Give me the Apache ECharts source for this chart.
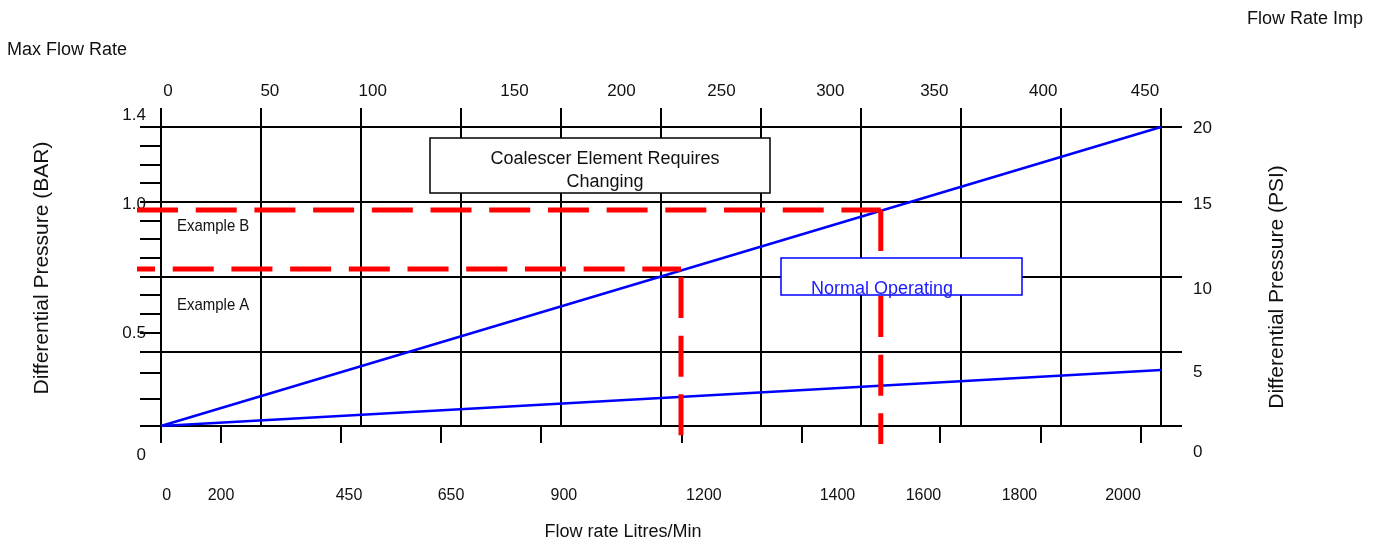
<!DOCTYPE html>
<html>
<head>
<meta charset="utf-8">
<script src="https://cdn.jsdelivr.net/npm/echarts@6/dist/echarts.min.js"></script>
<style>
html,body{margin:0;padding:0;background:#fff;}
#chart{width:1383px;height:546px;}
</style>
</head>
<body>
<div id="chart"></div>
<script>
// ---------------- data ----------------
// x unit: flow rate (Imp), y unit: differential pressure (PSI)
const flowEnds = [0, 450];
const upperLinePsi = [0, 20];
const lowerLinePsi = [0, 3.75];

// red example paths (flow Imp, PSI)
const exampleAHorizFlow = [-17.53, 234.0];
const exampleAHorizPsi  = [10.5, 10.5];
const exampleAVertFlow  = [234.0, 234.0];
const exampleAVertPsi   = [9.97, -0.74];
const exampleBHorizFlow = [-18.43, 323.9];
const exampleBHorizPsi  = [14.45, 14.45];
const exampleBVertFlow  = [323.9, 323.9];
const exampleBVertPsi   = [14.45, -1.2];

// grid lines
const gridFlowValues = [0, 45, 90, 135, 180, 225, 270, 315, 360, 405, 450];
const gridPsiValues = [0, 5, 10, 15, 20];

// top axis (Flow Rate Imp) labels and where they sit
const topLabels = ['0', '50', '100', '150', '200', '250', '300', '350', '400', '450'];
const topLabelAt = [3.1, 49.0, 95.3, 159.1, 207.2, 252.2, 301.2, 348.0, 397.0, 442.8];

// bottom axis (Litres/Min) ticks and labels
const bottomTickAt = [0, 26.97, 80.92, 125.87, 170.83, 234.22, 288.16, 350.65, 396.05, 441.01];
const bottomLabels = ['0', '200', '450', '650', '900', '1200', '1400', '1600', '1800', '2000'];
const bottomLabelAt = [2.6, 27.0, 84.6, 130.5, 181.3, 244.3, 304.4, 343.1, 386.3, 432.9];

// left axis (BAR) minor ticks and labels
const leftTickAt = [18.75, 17.5, 16.25, 13.75, 12.5, 11.25, 8.75, 7.5, 6.25, 3.55, 1.81];
const leftLabels = ['1.4', '1.0', '0.5', '0'];
const leftLabelAt = [20.8, 14.85, 6.22, -1.94];

// right axis (PSI) labels
const rightLabels = ['20', '15', '10', '5', '0'];
const rightLabelAt = [19.93, 14.85, 9.16, 3.61, -1.74];

// ---------------- chart ----------------
const FONT = "'Liberation Sans', Arial, sans-serif";
const X_MIN = -21 * 450 / 1001, X_MAX = 450 + 21 * 450 / 1001;
const Y_MAX = 318 * 20 / 299, Y_MIN_B = -49 * 20 / 299;

function pick(labels, at) {
  return function (v) {
    for (let i = 0; i < at.length; i++) if (Math.abs(at[i] - v) < 1e-6) return labels[i];
    return '';
  };
}
function zip(xs, ys) { return xs.map((x, i) => [x, ys[i]]); }
function redLine(xs, ys, dash, offset) {
  return {type: 'line', xAxisIndex: 0, yAxisIndex: 0, data: zip(xs, ys), symbol: 'none', clip: false,
    lineStyle: {color: '#ff0000', width: 5, type: dash, dashOffset: offset, cap: 'butt'}, z: 6, silent: true};
}

const chart = echarts.init(document.getElementById('chart'), null, {renderer: 'canvas'});
const noLine = {show: false, onZero: false};
chart.setOption({
  animation: false,
  backgroundColor: '#fff',
  grid: [
    {left: 140, right: 201, top: 108, bottom: 120, outerBoundsMode: 'none', containLabel: false},
    {left: 140, right: 201, top: 108, bottom: 71, outerBoundsMode: 'none', containLabel: false}
  ],
  xAxis: [
    { // bottom ticks + labels (Litres/Min)
      gridIndex: 0, type: 'value', position: 'bottom', min: X_MIN, max: X_MAX,
      axisLine: noLine,
      axisTick: {show: true, customValues: bottomTickAt, length: 17, lineStyle: {color: '#000', width: 2}},
      axisLabel: {show: true, customValues: bottomLabelAt, formatter: pick(bottomLabels, bottomLabelAt),
        margin: 62, fontSize: 16, fontFamily: FONT, color: '#111'},
      splitLine: {show: false}
    },
    { // vertical grid lines + top labels (Imp)
      gridIndex: 0, type: 'value', position: 'top', min: X_MIN, max: X_MAX,
      axisLine: noLine,
      axisTick: {show: false, customValues: gridFlowValues},
      axisLabel: {show: true, customValues: topLabelAt, formatter: pick(topLabels, topLabelAt),
        margin: 8, fontSize: 17, fontFamily: FONT, color: '#111'},
      splitLine: {show: true, lineStyle: {color: '#000', width: 2}}
    },
    {gridIndex: 1, type: 'value', min: 0, max: 1, show: false}
  ],
  yAxis: [
    { // horizontal grid lines
      gridIndex: 0, type: 'value', position: 'left', min: 0, max: Y_MAX,
      axisLine: noLine,
      axisTick: {show: false, customValues: gridPsiValues},
      axisLabel: {show: false},
      splitLine: {show: true, lineStyle: {color: '#000', width: 2}}
    },
    { // left minor ticks
      gridIndex: 0, type: 'value', position: 'left', min: 0, max: Y_MAX,
      axisLine: noLine,
      axisTick: {show: true, inside: true, length: 21, customValues: leftTickAt, lineStyle: {color: '#000', width: 2}},
      axisLabel: {show: false},
      splitLine: {show: false}
    },
    { // left labels (BAR)
      gridIndex: 1, type: 'value', position: 'left', min: Y_MIN_B, max: Y_MAX,
      axisLine: noLine, axisTick: {show: false},
      axisLabel: {show: true, customValues: leftLabelAt, formatter: pick(leftLabels, leftLabelAt),
        margin: -6, fontSize: 17, fontFamily: FONT, color: '#111'},
      splitLine: {show: false}
    },
    { // right labels (PSI)
      gridIndex: 1, type: 'value', position: 'right', min: Y_MIN_B, max: Y_MAX,
      axisLine: noLine, axisTick: {show: false},
      axisLabel: {show: true, customValues: rightLabelAt, formatter: pick(rightLabels, rightLabelAt),
        margin: 11, fontSize: 17, fontFamily: FONT, color: '#111'},
      splitLine: {show: false}
    }
  ],
  series: [
    {type: 'line', xAxisIndex: 0, yAxisIndex: 0, data: zip(flowEnds, upperLinePsi), symbol: 'none',
      lineStyle: {color: '#0000ff', width: 2.5}, z: 5, silent: true},
    {type: 'line', xAxisIndex: 0, yAxisIndex: 0, data: zip(flowEnds, lowerLinePsi), symbol: 'none',
      lineStyle: {color: '#0000ff', width: 2.5}, z: 5, silent: true},
    redLine(exampleAHorizFlow, exampleAHorizPsi, [41, 17.7], 8),
    redLine(exampleAVertFlow, exampleAVertPsi, [41, 17.7], 0),
    redLine(exampleBHorizFlow, exampleBHorizPsi, [41, 17.7], 41.7),
    redLine(exampleBVertFlow, exampleBVertPsi, [41, 45, 41, 17.7, 41, 17.7, 41, 17.7], 0)
  ],
  graphic: [
    {type: 'text', x: 1247, y: 19, z: 100, style: {text: 'Flow Rate Imp', fontSize: 18, fontFamily: FONT, fill: '#111', align: 'left', verticalAlign: 'middle'}},
    {type: 'text', x: 7, y: 50, z: 100, style: {text: 'Max Flow Rate', fontSize: 18, fontFamily: FONT, fill: '#111', align: 'left', verticalAlign: 'middle'}},
    {type: 'text', x: 42, y: 268, rotation: Math.PI / 2, z: 100, style: {text: 'Differential Pressure (BAR)', fontSize: 21, fontFamily: FONT, fill: '#111', align: 'center', verticalAlign: 'middle'}},
    {type: 'text', x: 1277, y: 287, rotation: Math.PI / 2, z: 100, style: {text: 'Differential Pressure (PSI)', fontSize: 21, fontFamily: FONT, fill: '#111', align: 'center', verticalAlign: 'middle'}},
    {type: 'text', x: 623, y: 532, z: 100, style: {text: 'Flow rate Litres/Min', fontSize: 18, fontFamily: FONT, fill: '#111', align: 'center', verticalAlign: 'middle'}},
    {type: 'text', x: 177, y: 226, scaleX: 0.88, z: 100, style: {text: 'Example B', fontSize: 17, fontFamily: FONT, fill: '#111', align: 'left', verticalAlign: 'middle'}},
    {type: 'text', x: 177, y: 305, scaleX: 0.88, z: 100, style: {text: 'Example A', fontSize: 17, fontFamily: FONT, fill: '#111', align: 'left', verticalAlign: 'middle'}},
    {type: 'rect', z: 100, shape: {x: 430, y: 138, width: 340, height: 55}, style: {fill: '#fff', stroke: '#000', lineWidth: 1.5}},
    {type: 'text', x: 605, y: 159, z: 101, style: {text: 'Coalescer Element Requires', fontSize: 18, fontFamily: FONT, fill: '#111', align: 'center', verticalAlign: 'middle'}},
    {type: 'text', x: 605, y: 182, z: 101, style: {text: 'Changing', fontSize: 18, fontFamily: FONT, fill: '#111', align: 'center', verticalAlign: 'middle'}},
    {type: 'rect', z: 100, shape: {x: 781, y: 258, width: 241, height: 37}, style: {fill: '#fff', stroke: '#0000ff', lineWidth: 1.5}},
    {type: 'text', x: 882, y: 289, z: 101, style: {text: 'Normal Operating', fontSize: 18, fontFamily: FONT, fill: '#1a1aff', align: 'center', verticalAlign: 'middle'}}
  ]
});
</script>
</body>
</html>
